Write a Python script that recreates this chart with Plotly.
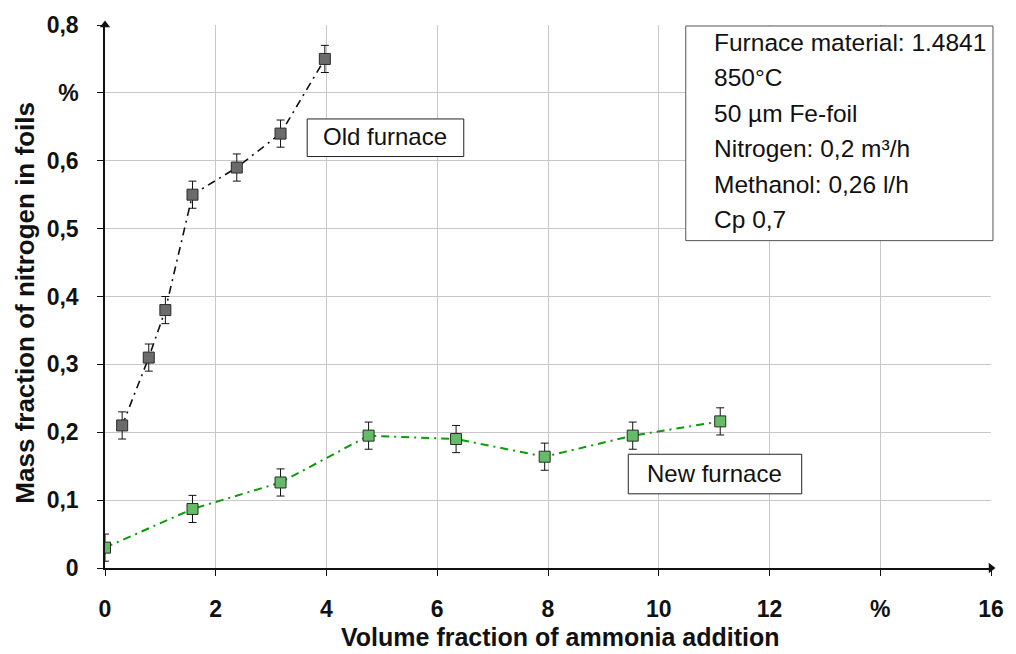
import plotly.graph_objects as go

# ---- data ----
old_x = [0.31, 0.79, 1.09, 1.58, 2.38, 3.17, 3.97]
old_y = [0.21, 0.31, 0.38, 0.55, 0.59, 0.64, 0.75]
old_err = [0.02, 0.02, 0.02, 0.02, 0.02, 0.02, 0.02]

new_x = [0.0, 1.58, 3.17, 4.76, 6.34, 7.94, 9.53, 11.11]
new_y = [0.03, 0.087, 0.126, 0.195, 0.19, 0.164, 0.195, 0.216]
new_err = [0.02, 0.02, 0.02, 0.02, 0.02, 0.02, 0.02, 0.02]

x_tickvals = [0, 2, 4, 6, 8, 10, 12, 14, 16]
x_ticktext = ["0", "2", "4", "6", "8", "10", "12", "%", "16"]
y_tickvals = [0, 0.1, 0.2, 0.3, 0.4, 0.5, 0.6, 0.7, 0.8]
y_ticktext = ["0", "0,1", "0,2", "0,3", "0,4", "0,5", "0,6", "%", "0,8"]

info_lines = ["Furnace material: 1.4841", "850°C", "50 µm Fe-foil",
              "Nitrogen: 0,2 m³/h", "Methanol: 0,26 l/h", "Cp 0,7"]

FONT = "Liberation Sans, Arial, sans-serif"

fig = go.Figure()

fig.add_trace(go.Scatter(
    x=old_x, y=old_y, mode="lines+markers", name="Old furnace",
    line=dict(color="#111111", width=1.6, dash="8px,5px,2px,5px"),
    marker=dict(symbol="square", size=11, color="#6b6b6b",
                line=dict(color="#2a2a2a", width=1)),
    error_y=dict(type="data", array=old_err, visible=True,
                 color="#111111", thickness=1, width=4),
))
fig.add_trace(go.Scatter(
    x=new_x, y=new_y, mode="lines+markers", name="New furnace",
    line=dict(color="#0a9a0a", width=2, dash="8px,5px,2px,5px"),
    marker=dict(symbol="square", size=11, color="#66bb66",
                line=dict(color="#2a2a2a", width=1)),
    error_y=dict(type="data", array=new_err, visible=True,
                 color="#111111", thickness=1, width=4),
))

# axis arrowheads
fig.add_trace(go.Scatter(x=[0], y=[0.8], mode="markers",
                         marker=dict(symbol="triangle-up", size=9, color="#111111"),
                         cliponaxis=False, hoverinfo="skip"))
fig.add_trace(go.Scatter(x=[16], y=[0], mode="markers",
                         marker=dict(symbol="triangle-right", size=9, color="#111111"),
                         cliponaxis=False, hoverinfo="skip"))

L, R, T, B = 105, 17, 19, 86
W, H = 1016, 654
pw, ph = W - L - R, H - T - B


def px(xp):
    return (xp - L) / pw


def py(yp):
    return (H - B - yp) / ph


shapes = []
annotations = []

# Old furnace box
shapes.append(dict(type="rect", xref="paper", yref="paper",
                   x0=px(309), x1=px(467), y0=py(152), y1=py(114),
                   line=dict(color="#222222", width=1), fillcolor="white"))
annotations.append(dict(text="Old furnace", xref="paper", yref="paper",
                        x=px(388), y=py(132), showarrow=False,
                        xanchor="center", yanchor="middle",
                        font=dict(family=FONT, size=24, color="#111111")))
# New furnace box
shapes.append(dict(type="rect", xref="paper", yref="paper",
                   x0=px(633), x1=px(808), y0=py(493), y1=py(453),
                   line=dict(color="#222222", width=1), fillcolor="white"))
annotations.append(dict(text="New furnace", xref="paper", yref="paper",
                        x=px(720), y=py(472), showarrow=False,
                        xanchor="center", yanchor="middle",
                        font=dict(family=FONT, size=24, color="#111111")))
# Info box
shapes.append(dict(type="rect", xref="paper", yref="paper",
                   x0=px(691), x1=px(1001), y0=py(237), y1=py(20),
                   line=dict(color="#555555", width=1), fillcolor="white"))
line_y = [37, 72, 108, 144, 180, 216]
for txt, yy in zip(info_lines, line_y):
    annotations.append(dict(text=txt, xref="paper", yref="paper",
                            x=px(717), y=py(yy), showarrow=False,
                            xanchor="left", yanchor="middle",
                            font=dict(family=FONT, size=24.5, color="#111111")))

# axis titles
annotations.append(dict(text="Mass fraction of nitrogen in foils", xref="paper", yref="paper",
                        x=px(24), y=py(300), showarrow=False, textangle=-90,
                        xanchor="center", yanchor="middle",
                        font=dict(family=FONT, size=26, color="#111111", weight="bold")))
annotations.append(dict(text="Volume fraction of ammonia addition", xref="paper", yref="paper",
                        x=px(564), y=py(638), showarrow=False,
                        xanchor="center", yanchor="middle",
                        font=dict(family=FONT, size=25, color="#111111", weight="bold")))

fig.update_layout(
    width=W, height=H,
    margin=dict(l=L, r=R, t=T, b=B),
    paper_bgcolor="white", plot_bgcolor="white",
    showlegend=False,
    shapes=shapes, annotations=annotations,
    xaxis=dict(range=[0, 16], tickvals=x_tickvals, ticktext=x_ticktext,
               showgrid=True, gridcolor="#c8c8c8", gridwidth=1,
               showline=True, linecolor="#111111", linewidth=1.5,
               ticks="outside", ticklen=6, tickcolor="#111111",
               ticklabelstandoff=14,
               tickfont=dict(family=FONT, size=23, color="#111111", weight="bold"),
               zeroline=False, fixedrange=True),
    yaxis=dict(range=[0, 0.8], tickvals=y_tickvals, ticktext=y_ticktext,
               showgrid=True, gridcolor="#c8c8c8", gridwidth=1,
               showline=True, linecolor="#111111", linewidth=1.5,
               ticks="outside", ticklen=6, tickcolor="#111111",
               ticklabelstandoff=14,
               tickfont=dict(family=FONT, size=23, color="#111111", weight="bold"),
               zeroline=False, fixedrange=True),
)

fig.write_html("out.html")
